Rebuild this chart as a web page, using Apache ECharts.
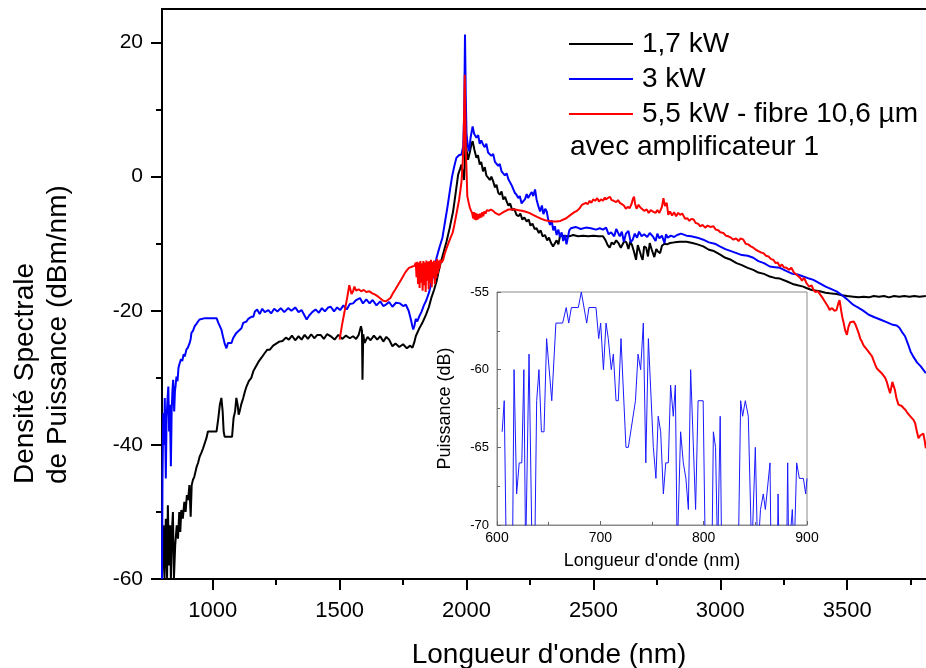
<!DOCTYPE html>
<html>
<head>
<meta charset="utf-8">
<script src="https://cdn.jsdelivr.net/npm/echarts@6/dist/echarts.min.js"></script>
<style>
  html, body { margin: 0; padding: 0; background: #fff; }
  #chart { width: 926px; height: 668px; }
</style>
</head>
<body>
<div id="chart"></div>
<script>
const seriesNames = ['1,7 kW', '3 kW', '5,5 kW - fibre 10,6 µm']
const noteText = 'avec amplificateur 1'

const xMajorTicks = [1000, 1500, 2000, 2500, 3000, 3500]
const xMinorTicks = [1250, 1750, 2250, 2750, 3250, 3750]
const yMajorTicks = [-60, -40, -20, 0, 20]
const yMinorTicks = [-50, -30, -10, 10]

// 1,7 kW
const blackData = [
  [800, -60], [806, -52], [810, -60], [815, -51], [820, -60], [823, -49], [828, -58], [832, -52], [835, -60], [839, -53],
  [843, -50], [847, -60], [852, -55], [858, -52], [863, -54], [868, -50], [872, -53], [876, -49.7], [882, -51], [888, -48.5],
  [893, -50], [898, -47.5], [903, -48.2], [908, -46], [913, -50.7], [917, -46], [922, -45.2], [927, -44.8], [932, -44], [937, -43.2],
  [942, -42.7], [948, -41.8], [955, -41.2], [962, -40.5], [968, -40.3], [975, -39], [981, -38], [1000, -38], [1015, -38], [1022, -36],
  [1028, -34], [1034, -33], [1039, -35], [1043, -38], [1047, -38.8], [1060, -38.8], [1076, -38.8], [1082, -36], [1088, -35], [1093, -33],
  [1098, -34], [1102, -35.5], [1106, -35], [1112, -34], [1120, -33], [1127, -32], [1133, -31.3], [1142, -30.5], [1152, -30], [1160, -29],
  [1170, -28.3], [1182, -27.5], [1192, -27], [1205, -26.3], [1215, -25.8], [1225, -25.8], [1238, -25.2], [1250, -24.9], [1262, -24.6], [1275, -24.5],
  [1288, -24], [1300, -24.3], [1312, -23.7], [1325, -24.4], [1338, -23.8], [1350, -24.3], [1362, -23.6], [1375, -24.2], [1388, -23.5], [1400, -24.1],
  [1412, -23.6], [1425, -23.6], [1438, -24.2], [1450, -23.5], [1465, -23.8], [1480, -24.3], [1495, -23.6], [1510, -24.2], [1525, -23.7], [1540, -24.1],
  [1553, -23.8], [1565, -24.2], [1575, -23.6], [1584, -22.3], [1588, -23], [1590, -30.3], [1593, -23.5], [1598, -24.8], [1610, -23.9], [1622, -24.4],
  [1635, -23.7], [1648, -24.3], [1660, -23.8], [1672, -24.6], [1684, -23.9], [1695, -24.3], [1708, -25.3], [1720, -24.9], [1735, -25.4], [1750, -25],
  [1765, -25.6], [1778, -25.2], [1787, -25.5], [1795, -24.6], [1800, -23.8], [1813, -22.7], [1826, -21.8], [1840, -20.6], [1852, -19.4], [1862, -18],
  [1872, -16.9], [1882, -15.6], [1893, -13.6], [1905, -11.9], [1921, -9.7], [1934, -7.6], [1947, -5.2], [1957, -2.5], [1967, 0.3], [1975, 1.2],
  [1980, 1.8], [1986, 0.5], [1990, -0.5], [1994, 2.5], [1997, 8], [2000, 4], [2006, 2.5], [2012, 3.5], [2018, 4.6], [2024, 5.3],
  [2031, 4], [2039, 2.8], [2045, 3.2], [2052, 1.8], [2058, 2.2], [2065, 0.8], [2072, 1.4], [2078, 0.2], [2085, 0.3], [2092, -0.5],
  [2098, 0], [2105, -0.7], [2112, -1.6], [2118, -1.2], [2125, -2.4], [2131, -2.7], [2138, -2.2], [2145, -3.4], [2152, -3], [2158, -3.7],
  [2165, -4.3], [2172, -4], [2180, -5], [2188, -4.8], [2197, -5.7], [2205, -5.9], [2212, -5.5], [2220, -6.4], [2228, -6.1], [2237, -6.7],
  [2245, -6.4], [2252, -7.3], [2260, -7], [2268, -7.8], [2276, -7.7], [2285, -8.4], [2292, -8], [2300, -8.9], [2309, -8.7], [2318, -9.5],
  [2325, -9.1], [2333, -9.9], [2341, -10.4], [2348, -10.4], [2355, -9.5], [2362, -10.1], [2368, -8.9], [2380, -8.8], [2395, -8.9], [2405, -8.9],
  [2420, -8.7], [2440, -8.9], [2460, -8.8], [2480, -8.9], [2500, -8.8], [2520, -8.9], [2538, -8.9], [2548, -9.5], [2556, -10.2], [2564, -10.6],
  [2572, -9.8], [2580, -10.1], [2590, -9.5], [2600, -10], [2608, -10.6], [2615, -10.4], [2622, -9.6], [2630, -9.8], [2638, -10.8], [2645, -9.7],
  [2652, -10.2], [2660, -11.2], [2668, -12.4], [2675, -10.2], [2682, -10], [2688, -11.8], [2694, -12.4], [2700, -10.4], [2708, -10.6], [2715, -11.9],
  [2722, -9.9], [2730, -10.9], [2740, -12], [2748, -10.8], [2755, -11.2], [2763, -11.4], [2770, -10.3], [2780, -10], [2790, -10.1], [2802, -9.9],
  [2820, -9.8], [2840, -9.7], [2867, -9.7], [2890, -9.9], [2910, -10.1], [2933, -10.4], [2955, -10.9], [2975, -11.1], [2998, -11.6], [3020, -12.1],
  [3042, -12.4], [3064, -12.9], [3085, -13.2], [3108, -13.6], [3130, -13.9], [3150, -14.3], [3172, -14.5], [3195, -14.9], [3215, -15.1], [3235, -15.2],
  [3261, -15.6], [3285, -16], [3305, -16.2], [3327, -16.4], [3339, -16.6], [3360, -16.9], [3392, -17.1], [3415, -17.3], [3431, -17.4], [3458, -17.5],
  [3480, -17.7], [3500, -17.8], [3524, -17.9], [3545, -18], [3565, -17.9], [3585, -18], [3605, -17.8], [3625, -17.9], [3645, -17.8], [3665, -18],
  [3685, -17.8], [3705, -17.9], [3725, -17.8], [3745, -17.9], [3765, -17.8], [3785, -17.9], [3810, -17.8]
]

// 3 kW
const blueData = [
  [800, -60], [802, -45], [805, -35.3], [808, -40], [811, -33], [815, -45], [818, -36], [822, -33], [825, -31.3], [828, -38],
  [831, -34], [835, -43.2], [838, -35], [841, -32], [844, -30.3], [848, -35], [851, -32], [854, -31], [857, -29.8], [861, -30.5],
  [865, -28.5], [870, -27.8], [875, -27.2], [880, -27.5], [885, -26.5], [890, -26.8], [896, -25.8], [902, -25.5], [909, -24.8], [913, -24.2],
  [916, -23.3], [922, -23], [929, -22.3], [935, -22], [942, -21.6], [948, -21.3], [955, -21.1], [970, -21.1], [990, -21.1], [1015, -21.1],
  [1022, -21.8], [1028, -22.3], [1034, -22.8], [1040, -23.8], [1047, -24.9], [1054, -25.6], [1060, -24.8], [1074, -24.8], [1080, -24.1], [1093, -23.3],
  [1100, -23.3], [1113, -22.6], [1120, -21.8], [1133, -21.6], [1140, -21.2], [1152, -20.9], [1160, -20.9], [1166, -20.1], [1175, -19.8], [1185, -20.5],
  [1195, -19.7], [1205, -20.2], [1219, -19.9], [1230, -20.4], [1242, -19.7], [1255, -20.1], [1268, -19.6], [1282, -20.2], [1297, -19.6], [1310, -20],
  [1325, -19.5], [1338, -20.2], [1350, -19.9], [1360, -20.6], [1370, -21.3], [1380, -20.7], [1392, -20.2], [1405, -19.8], [1418, -20.3], [1430, -19.6],
  [1442, -20.1], [1455, -19.5], [1465, -19.4], [1478, -20.1], [1490, -19.5], [1502, -19.9], [1515, -19.2], [1528, -19.8], [1540, -19], [1553, -18.9],
  [1565, -18.4], [1580, -18.1], [1592, -18.9], [1605, -18.3], [1618, -18.9], [1630, -18.4], [1645, -19.2], [1660, -18.6], [1672, -19.3], [1682, -19.1],
  [1695, -18.7], [1708, -19.4], [1722, -18.8], [1738, -18.9], [1750, -19.3], [1761, -19.1], [1772, -20], [1780, -21.2], [1786, -22.2], [1790, -22.8],
  [1795, -22.2], [1800, -21.2], [1806, -21.6], [1813, -20.9], [1822, -20.2], [1832, -19.2], [1842, -18.4], [1852, -17.3], [1862, -15.8], [1872, -14.3],
  [1882, -12.1], [1893, -10.6], [1905, -9.1], [1915, -6.8], [1925, -4.5], [1934, -2.2], [1943, 0], [1952, 1.6], [1960, 2.8], [1970, 3.2],
  [1980, 3.3], [1987, 4.5], [1991, 10], [1994, 21.2], [1997, 12], [2000, 6.3], [2005, 4.6], [2010, 3.8], [2016, 5.8], [2024, 7.5],
  [2030, 6.4], [2039, 5.8], [2046, 6.2], [2052, 4.9], [2058, 5.4], [2065, 4.8], [2072, 4.4], [2078, 4.9], [2085, 3.6], [2092, 3.8],
  [2098, 3.1], [2105, 3.4], [2112, 2.2], [2118, 2.3], [2125, 1.6], [2131, 1.9], [2138, 0.8], [2144, 0.8], [2151, 0.2], [2158, 0.5],
  [2165, -0.4], [2171, -0.2], [2178, -1.3], [2184, -1.4], [2190, -2.4], [2197, -2.7], [2204, -3.2], [2210, -2.9], [2217, -4], [2223, -3.7],
  [2230, -3.4], [2237, -2.6], [2243, -3.2], [2250, -2.7], [2257, -2.3], [2263, -2.9], [2270, -1.9], [2276, -3.4], [2283, -4.4], [2290, -5.2],
  [2297, -4.3], [2303, -5.6], [2310, -4.8], [2316, -5.2], [2322, -6.4], [2329, -7.2], [2335, -6.5], [2342, -8], [2348, -7.4], [2355, -8.7],
  [2362, -7.9], [2368, -9], [2375, -8.3], [2381, -9.6], [2388, -8.7], [2394, -10.1], [2400, -10.3], [2405, -8], [2411, -7.7], [2430, -7.5],
  [2450, -7.8], [2470, -7.6], [2490, -7.7], [2510, -7.9], [2525, -7.7], [2538, -7.9], [2550, -7.6], [2560, -8.6], [2570, -8.3], [2582, -8.9],
  [2590, -7.8], [2600, -8.6], [2604, -8.9], [2612, -8.2], [2620, -9.7], [2628, -8.5], [2638, -8.1], [2647, -9.8], [2655, -9.4], [2663, -8.5],
  [2672, -9.1], [2680, -8.2], [2690, -8.9], [2700, -8.6], [2712, -9], [2722, -8.4], [2734, -8.9], [2745, -9.6], [2752, -8.5], [2760, -9.2],
  [2770, -8.8], [2780, -9.9], [2786, -8.6], [2793, -9.1], [2805, -8.8], [2818, -9], [2830, -8.7], [2845, -8.5], [2867, -8.8], [2885, -8.9],
  [2910, -9.1], [2933, -9.4], [2955, -9.8], [2978, -10], [2998, -10.4], [3020, -10.8], [3042, -11.1], [3064, -11.4], [3085, -11.7], [3108, -11.8],
  [3130, -12.1], [3150, -12.6], [3172, -12.9], [3195, -13.4], [3215, -13.5], [3235, -13.6], [3261, -14.1], [3285, -14.5], [3305, -14.6], [3327, -14.9],
  [3350, -15.2], [3367, -15.4], [3392, -15.9], [3415, -16.4], [3440, -16.8], [3458, -17.1], [3480, -17.7], [3500, -18.3], [3520, -19], [3537, -19.4],
  [3560, -19.9], [3585, -20.6], [3610, -21], [3630, -21.3], [3655, -21.7], [3680, -22.1], [3695, -22.2], [3705, -22.5], [3715, -23.1], [3728, -23.8],
  [3740, -25], [3750, -26.1], [3760, -26.8], [3775, -27.7], [3790, -28.3], [3810, -29.3]
]

// 5,5 kW - fibre 10,6 µm
const redData = [
  [1500, -24.3], [1510, -22], [1520, -20], [1530, -18], [1538, -16.2], [1542, -16.1], [1547, -17.5], [1553, -17.1], [1558, -16.4], [1565, -17],
  [1575, -16.8], [1585, -17.1], [1595, -16.9], [1605, -17.2], [1617, -17.1], [1629, -17.4], [1640, -17.6], [1652, -17.9], [1662, -18.2], [1672, -18.5],
  [1682, -18.6], [1690, -18.4], [1700, -18.1], [1710, -17.4], [1720, -16.8], [1734, -15.9], [1748, -15], [1760, -14.2], [1773, -13.6], [1787, -13.4],
  [1795, -13.3], [1800, -12.8], [1803, -15], [1806, -12.7], [1809, -16], [1812, -12.8], [1815, -16.6], [1818, -12.6], [1821, -15.8], [1824, -12.9],
  [1827, -17], [1830, -12.6], [1833, -16.2], [1836, -12.8], [1839, -17.2], [1842, -12.5], [1845, -15.5], [1848, -12.7], [1851, -16.8], [1854, -12.6],
  [1857, -15.9], [1860, -12.4], [1863, -16.5], [1866, -12.7], [1869, -15], [1872, -12.5], [1875, -16], [1878, -12.6], [1881, -15.2], [1884, -12.3],
  [1887, -14.5], [1890, -12.5], [1893, -13.8], [1897, -12.4], [1902, -12.8], [1908, -12.4], [1914, -11.5], [1920, -10.8], [1928, -10], [1936, -9.2],
  [1945, -8.4], [1952, -7.2], [1958, -6], [1964, -4.8], [1971, -3.4], [1976, -2], [1980, -0.8], [1984, 1.5], [1988, 4.5], [1991, 10],
  [1993, 15.2], [1995, 10], [1997, 4.5], [2000, 1], [2003, -2.9], [2008, -3.8], [2013, -4.6], [2018, -5.1], [2022, -5.4], [2026, -6.2],
  [2029, -5.3], [2032, -6.4], [2035, -5.4], [2038, -6.5], [2041, -5.5], [2044, -6.4], [2047, -5.6], [2050, -6.2], [2054, -5.5], [2058, -6.1],
  [2062, -5.3], [2066, -5.9], [2070, -5.2], [2075, -5.5], [2080, -5], [2088, -5.1], [2096, -4.9], [2105, -5.1], [2113, -5.4], [2120, -5.6],
  [2128, -5.7], [2136, -5.5], [2145, -5.3], [2155, -5.1], [2165, -4.9], [2175, -4.9], [2192, -4.9], [2205, -5], [2218, -5.1], [2230, -5.2],
  [2247, -5.4], [2262, -5.7], [2278, -6], [2295, -6.3], [2310, -6.5], [2325, -6.6], [2341, -6.7], [2355, -6.7], [2370, -6.6], [2393, -6.2],
  [2410, -5.7], [2425, -5.3], [2435, -5.1], [2446, -4.7], [2455, -4.2], [2462, -4.4], [2470, -3.9], [2478, -4.1], [2485, -3.6], [2492, -3.9],
  [2499, -3.4], [2507, -3.6], [2515, -3.2], [2522, -3.7], [2530, -3.4], [2538, -3.6], [2545, -3.1], [2549, -3.4], [2556, -3.6], [2565, -3],
  [2572, -3.5], [2580, -3.6], [2590, -3.8], [2597, -3.5], [2604, -3.9], [2612, -4.1], [2620, -4.3], [2628, -4.8], [2635, -4.5], [2643, -4.7],
  [2650, -4.1], [2655, -3.4], [2660, -3], [2664, -4], [2670, -4.8], [2678, -4.2], [2685, -4.6], [2692, -4.4], [2700, -5.1], [2710, -4.9],
  [2718, -5.4], [2726, -5], [2735, -5.2], [2745, -5.4], [2752, -5], [2760, -5.4], [2770, -4.5], [2776, -3.2], [2782, -4.4], [2789, -3.9],
  [2795, -5.7], [2802, -5.2], [2810, -5.8], [2818, -5.3], [2826, -5.9], [2834, -5.4], [2842, -5.7], [2850, -5.5], [2855, -5.7], [2862, -6.3],
  [2870, -6.2], [2878, -6.6], [2886, -6.3], [2895, -6.4], [2903, -6.9], [2912, -7], [2921, -7.4], [2930, -7.2], [2940, -7.6], [2950, -7.3],
  [2960, -7.5], [2973, -7.4], [2982, -7.9], [2992, -8], [3000, -8.3], [3012, -8.4], [3022, -8.8], [3032, -8.9], [3042, -9.1], [3052, -9.4],
  [3062, -9.2], [3072, -9.6], [3080, -9.2], [3091, -9.4], [3100, -10], [3110, -10.1], [3120, -10.4], [3130, -10.6], [3140, -10.9], [3150, -11.1],
  [3160, -11.3], [3170, -11.4], [3180, -11.8], [3190, -11.9], [3200, -12.3], [3209, -12.4], [3218, -12.9], [3226, -12.8], [3235, -13.4], [3243, -13.1],
  [3250, -13.5], [3261, -13.6], [3270, -13.9], [3280, -13.6], [3290, -14.3], [3300, -14.6], [3315, -15.1], [3322, -15.5], [3330, -15.1], [3340, -15.9],
  [3350, -16.4], [3360, -16.2], [3367, -16.9], [3375, -17.2], [3385, -17.1], [3394, -17.6], [3405, -18.2], [3415, -18.8], [3425, -19.4], [3431, -19.9],
  [3440, -19.6], [3450, -20], [3458, -19.9], [3465, -18.9], [3470, -18.4], [3476, -19.9], [3481, -21], [3486, -21.8], [3492, -22.9], [3499, -23.6],
  [3505, -22.4], [3512, -21.7], [3519, -21.8], [3526, -21.6], [3532, -22], [3538, -22.1], [3545, -23.3], [3552, -24.2], [3558, -24.6], [3565, -25.2],
  [3572, -25.3], [3578, -25.8], [3585, -26], [3592, -26.5], [3598, -26.8], [3605, -27.5], [3612, -28.2], [3617, -28.6], [3625, -28.9], [3632, -28.8],
  [3638, -29.4], [3643, -29.6], [3650, -30], [3656, -30.6], [3662, -31.4], [3669, -32.3], [3674, -31.4], [3678, -30.6], [3682, -30.6], [3688, -31.8],
  [3694, -33], [3702, -34], [3708, -33.8], [3715, -34.2], [3722, -34.5], [3730, -34.8], [3735, -35.1], [3741, -35.3], [3748, -35.7], [3755, -36],
  [3762, -36.3], [3768, -36.8], [3774, -37.9], [3781, -39], [3788, -38.6], [3794, -38.5], [3800, -38.3], [3806, -39.5], [3810, -40.5]
]

// encart 600-900 nm (points sous -70 dB coupés par l'axe)
const insetData = [
  [605, -64], [607, -62], [609, -72], [615, -72], [616.5, -60], [619, -68], [621.5, -66], [624, -66], [626, -60], [627.7, -72],
  [631, -59], [634, -72], [636.5, -72], [638.4, -62], [640.6, -60], [643, -64], [645.5, -64], [648, -58], [653, -62], [657, -57],
  [663.5, -57], [667, -56], [669.4, -57], [672, -56], [678.7, -56], [681.6, -55], [686.8, -57], [689, -56], [695.8, -56], [698.4, -58],
  [700.3, -57], [703, -60], [705.5, -57], [707.7, -58], [710.6, -60], [712.6, -59], [715.2, -62], [717.4, -62], [720, -58], [724.8, -65],
  [727.1, -65], [734, -62], [736.5, -59], [739, -60], [741.6, -57], [744, -66], [746.5, -58], [751.3, -65], [753.8, -67], [756, -63],
  [758.4, -64], [761, -68], [763.3, -66], [765.8, -66], [768, -61], [770.6, -63], [772.6, -61], [774.4, -72], [775.8, -72], [777.7, -64],
  [780.3, -66], [782.8, -67], [785.2, -69], [787.4, -60], [792.2, -69], [794.6, -62], [799.5, -62], [801.6, -72], [808, -72], [809.4, -64],
  [811.5, -65], [813.5, -72], [815, -72], [816, -63], [817.4, -72], [833.5, -72], [835.8, -62], [837.7, -63], [840.3, -62], [843.2, -63],
  [846.5, -72], [850, -65], [852.3, -72], [853.8, -72], [855, -69], [857.7, -68], [859.7, -69], [864.2, -66], [865.2, -72], [871.3, -72],
  [872, -68], [873, -72], [880.3, -72], [881.3, -66], [882.3, -72], [885.8, -69], [887.5, -72], [890, -66], [892.6, -67], [896.5, -67],
  [898.7, -68], [900, -67]
]

const fontFamily = 'Liberation Sans, Arial, sans-serif'
const chart = echarts.init(document.getElementById('chart'), null, { renderer: 'canvas' })

const plain = function (v) { return String(v) }

const option = {
  animation: false,
  backgroundColor: '#fff',
  textStyle: { fontFamily: fontFamily, color: '#000' },
  grid: [
    {
      // zone principale, le bord droit sort de l'image
      left: 162,
      top: 9,
      right: -10,
      bottom: 89,
      outerBoundsMode: 'none',
      show: true,
      borderColor: '#000',
      borderWidth: 2
    },
    {
      left: 497,
      top: 292,
      width: 310,
      height: 233,
      outerBoundsMode: 'none',
      show: true,
      z: 4,
      backgroundColor: '#fff',
      borderColor: '#8a8a8a',
      borderWidth: 1
    }
  ],
  legend: {
    orient: 'vertical',
    left: 564,
    top: 25,
    itemWidth: 64,
    itemHeight: 14,
    itemGap: 7,
    icon: 'path://M0,6 L64,6 L64,8 L0,8 Z',
    data: seriesNames,
    textStyle: { fontSize: 28, color: '#000', fontFamily: fontFamily, padding: [0, 0, 0, 4] }
  },
  graphic: [
    {
      type: 'text',
      left: 570,
      top: 133,
      style: { text: noteText, font: '28px ' + fontFamily, fill: '#000' }
    },
    {
      type: 'text',
      x: 9,
      y: 484,
      rotation: Math.PI / 2,
      style: {
        text: 'Densité Spectrale\nde Puissance (dBm/nm)',
        font: '28px ' + fontFamily,
        fill: '#000',
        align: 'left',
        verticalAlign: 'top',
        lineHeight: 33
      }
    }
  ],
  xAxis: [
    {
      type: 'value',
      gridIndex: 0,
      min: 800,
      max: 3850,
      position: 'bottom',
      name: "Longueur d'onde (nm)",
      nameLocation: 'middle',
      nameGap: 62,
      nameTextStyle: { fontSize: 28, color: '#000', fontFamily: fontFamily },
      axisLine: { show: true, onZero: false, lineStyle: { color: '#000', width: 2 } },
      axisTick: { show: true, inside: false, length: 11, lineStyle: { color: '#000', width: 2 }, customValues: xMajorTicks },
      axisLabel: { show: true, margin: 21, fontSize: 22, color: '#000', fontFamily: fontFamily, customValues: xMajorTicks, formatter: plain },
      splitLine: { show: false }
    },
    {
      type: 'value',
      gridIndex: 0,
      min: 800,
      max: 3850,
      position: 'bottom',
      axisLine: { show: false, onZero: false },
      axisTick: { show: true, inside: false, length: 6, lineStyle: { color: '#000', width: 2 }, customValues: xMinorTicks },
      axisLabel: { show: false },
      splitLine: { show: false }
    },
    {
      type: 'value',
      gridIndex: 1,
      min: 600,
      max: 900,
      interval: 100,
      z: 5,
      name: "Longueur d'onde (nm)",
      nameLocation: 'middle',
      nameGap: 27,
      nameTextStyle: { fontSize: 18, color: '#000', fontFamily: fontFamily },
      axisLine: { show: true, onZero: false, lineStyle: { color: '#8a8a8a', width: 1 } },
      axisTick: { show: true, inside: true, length: 4, lineStyle: { color: '#666', width: 1 } },
      minorTick: { show: true, splitNumber: 2, length: 3, lineStyle: { color: '#666', width: 1 } },
      axisLabel: { margin: 6, fontSize: 14, color: '#000', fontFamily: fontFamily, formatter: plain },
      splitLine: { show: false }
    }
  ],
  yAxis: [
    {
      type: 'value',
      gridIndex: 0,
      min: -60,
      max: 25,
      position: 'left',
      axisLine: { show: true, onZero: false, lineStyle: { color: '#000', width: 2 } },
      axisTick: { show: true, inside: false, length: 11, lineStyle: { color: '#000', width: 2 }, customValues: yMajorTicks },
      axisLabel: { show: true, margin: 19, fontSize: 21, color: '#000', fontFamily: fontFamily, customValues: yMajorTicks, formatter: plain },
      splitLine: { show: false }
    },
    {
      type: 'value',
      gridIndex: 0,
      min: -60,
      max: 25,
      position: 'left',
      axisLine: { show: false, onZero: false },
      axisTick: { show: true, inside: false, length: 6, lineStyle: { color: '#000', width: 2 }, customValues: yMinorTicks },
      axisLabel: { show: false },
      splitLine: { show: false }
    },
    {
      type: 'value',
      gridIndex: 1,
      min: -70,
      max: -55,
      interval: 5,
      z: 5,
      name: 'Puissance (dB)',
      nameLocation: 'middle',
      nameGap: 43,
      nameTextStyle: { fontSize: 18, color: '#000', fontFamily: fontFamily },
      axisLine: { show: true, onZero: false, lineStyle: { color: '#8a8a8a', width: 1 } },
      axisTick: { show: true, inside: true, length: 4, lineStyle: { color: '#666', width: 1 } },
      minorTick: { show: true, splitNumber: 2, length: 3, lineStyle: { color: '#666', width: 1 } },
      axisLabel: { margin: 8, fontSize: 13, color: '#000', fontFamily: fontFamily },
      splitLine: { show: false }
    }
  ],
  series: [
    {
      name: seriesNames[0],
      type: 'line',
      xAxisIndex: 0,
      yAxisIndex: 0,
      data: blackData,
      showSymbol: false,
      symbol: 'none',
      clip: true,
      color: '#000',
      lineStyle: { color: '#000', width: 2 }
    },
    {
      name: seriesNames[1],
      type: 'line',
      xAxisIndex: 0,
      yAxisIndex: 0,
      data: blueData,
      showSymbol: false,
      symbol: 'none',
      clip: true,
      color: '#0000ff',
      lineStyle: { color: '#0000ff', width: 2 }
    },
    {
      name: seriesNames[2],
      type: 'line',
      xAxisIndex: 0,
      yAxisIndex: 0,
      data: redData,
      showSymbol: false,
      symbol: 'none',
      clip: true,
      color: '#ff0000',
      lineStyle: { color: '#ff0000', width: 2 }
    },
    {
      name: 'encart',
      type: 'line',
      xAxisIndex: 2,
      yAxisIndex: 2,
      data: insetData,
      showSymbol: false,
      symbol: 'none',
      clip: true,
      z: 6,
      lineStyle: { color: '#1a1aff', width: 1 }
    }
  ]
}

chart.setOption(option)
</script>
</body>
</html>
